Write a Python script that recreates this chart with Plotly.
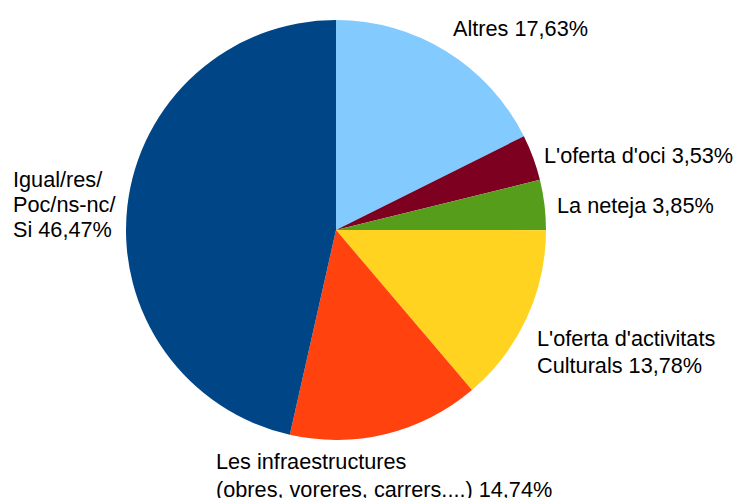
import plotly.graph_objects as go

categories = ["Altres", "L'oferta d'oci", "La neteja",
              "L'oferta d'activitats Culturals",
              "Les infraestructures (obres, voreres, carrers....)",
              "Igual/res/Poc/ns-nc/Si"]
values = [17.63, 3.53, 3.85, 13.78, 14.74, 46.47]
colors = ["#83CAFF", "#7E0021", "#579D1C", "#FFD320", "#FF420E", "#004586"]

# label lines per slice (as shown on the chart)
label_lines = [
    ["Altres 17,63%"],
    ["L'oferta d'oci 3,53%"],
    ["La neteja 3,85%"],
    ["L'oferta d'activitats", "Culturals 13,78%"],
    ["Les infraestructures", "(obres, voreres, carrers....) 14,74%"],
    ["Igual/res/", "Poc/ns-nc/", "Si 46,47%"],
]
# pixel anchor (left x, centre y of each line)
label_pos = [
    [(451, 28)],
    [(542, 155)],
    [(555, 205)],
    [(535, 338), (535, 365)],
    [(214, 461), (214, 489)],
    [(11, 179), (11, 204), (11, 230)],
]

W, H = 739, 498
cx, cy, r = 336, 230, 210

fig = go.Figure(go.Pie(
    labels=categories, values=values, sort=False, direction="clockwise",
    rotation=0, marker=dict(colors=colors, line=dict(width=0)),
    textinfo="none", hoverinfo="label+percent",
    domain=dict(x=[(cx - r) / W, (cx + r) / W], y=[1 - (cy + r) / H, 1 - (cy - r) / H]),
    showlegend=False,
))

anns = []
for lines, pos in zip(label_lines, label_pos):
    for t, (x, y) in zip(lines, pos):
        anns.append(dict(text=t, x=x / W, y=1 - y / H, xref="paper", yref="paper",
                         xanchor="left", yanchor="middle", showarrow=False,
                         font=dict(family="Liberation Sans, Arial, sans-serif", size=21.7, color="#000000")))

fig.update_layout(width=W, height=H, margin=dict(l=0, r=0, t=0, b=0),
                  paper_bgcolor="white", plot_bgcolor="white", annotations=anns)
fig.write_html("out.html", config={"displayModeBar": False},
               post_script="document.body.style.margin='0px';document.body.style.overflow='hidden';")
